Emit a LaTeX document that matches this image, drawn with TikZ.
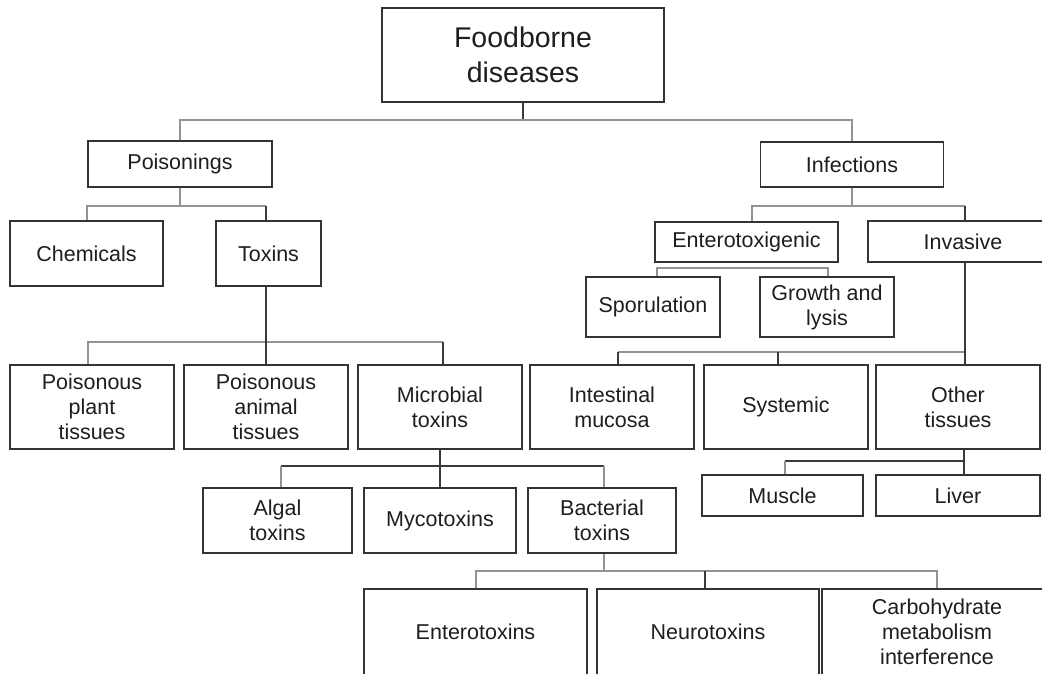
\documentclass[tikz,border=0pt]{standalone}
\usepackage{fontspec}
\setmainfont{Liberation Sans}
\definecolor{boxc}{HTML}{333333}
\definecolor{txtc}{HTML}{1E1E1E}
\definecolor{gline}{HTML}{939393}
\definecolor{dline}{HTML}{3A3A3A}
\begin{document}
\begin{tikzpicture}[x=1pt,y=-1pt,
  box/.style={draw=boxc,line width=1.7pt,fill=white,inner sep=0pt,align=center,
    text=txtc,font=\fontsize{21.5}{25}\selectfont},
  bigbox/.style={box,font=\fontsize{28.5}{35}\selectfont},
  gl/.style={draw=gline,line width=2pt},
  dl/.style={draw=dline,line width=1.8pt}]
\useasboundingbox (0,0) rectangle (1042,673);
\fill[white] (0,0) rectangle (1042,673);
\clip (0,0) rectangle (1042,673);

% bar levels
\coordinate (b0) at (0,120);
\coordinate (b1) at (0,206);
\coordinate (b2) at (0,342);
\coordinate (b3) at (0,466);
\coordinate (b4) at (0,571);
\coordinate (b5) at (0,268);
\coordinate (b6) at (0,352);
\coordinate (b7) at (0,461);

% connectors first (boxes drawn on top)
\path
  (523,55) coordinate (foodc)
  (180,164) coordinate (poisc);
% nodes
\node[bigbox,minimum width=282pt,minimum height=94pt] (food) at (523,55) {Foodborne\\diseases};
\node[box,minimum width=184pt,minimum height=46pt] (pois) at (180,164) {Poisonings};
\node[box,minimum width=183pt,minimum height=45pt] (inf) at (852,164.5) {Infections};
\node[box,minimum width=153pt,minimum height=65pt] (chem) at (86.5,253.5) {Chemicals};
\node[box,minimum width=105pt,minimum height=65pt] (tox) at (268.5,253.5) {Toxins};
\node[box,minimum width=164pt,minimum height=84pt] (plant) at (92,407) {Poisonous\\plant\\tissues};
\node[box,minimum width=164pt,minimum height=84pt] (animal) at (266,407) {Poisonous\\animal\\tissues};
\node[box,minimum width=164pt,minimum height=84pt] (micro) at (440,407) {Microbial\\toxins};
\node[box,minimum width=149pt,minimum height=65pt] (algal) at (277.5,520.5) {Algal\\toxins};
\node[box,minimum width=152pt,minimum height=65pt] (myco) at (440,520.5) {Mycotoxins};
\node[box,minimum width=148pt,minimum height=65pt] (bact) at (602,520.5) {Bacterial\\toxins};
\node[box,minimum width=223pt,minimum height=86pt] (entero) at (475.5,632) {Enterotoxins};
\node[box,minimum width=222pt,minimum height=86pt] (neuro) at (708,632) {Neurotoxins};
\node[box,minimum width=230pt,minimum height=86pt] (carbo) at (937,632) {Carbohydrate\\metabolism\\interference};
\node[box,minimum width=183pt,minimum height=40pt] (ent) at (746.5,242) {Enterotoxigenic};
\node[box,minimum width=190pt,minimum height=41pt] (inv) at (963,241.5) {Invasive};
\node[box,minimum width=134pt,minimum height=60pt] (spor) at (653,307) {Sporulation};
\node[box,minimum width=134pt,minimum height=60pt] (growth) at (827,307) {Growth and\\lysis};
\node[box,minimum width=164pt,minimum height=84pt] (intest) at (612,407) {Intestinal\\mucosa};
\node[box,minimum width=164pt,minimum height=84pt] (sys) at (786,407) {Systemic};
\node[box,minimum width=164pt,minimum height=84pt] (oth) at (958,407) {Other\\tissues};
\node[box,minimum width=161pt,minimum height=41pt] (muscle) at (782.5,495.5) {Muscle};
\node[box,minimum width=164pt,minimum height=41pt] (liver) at (958,495.5) {Liver};

% level 0
\draw[dl] (food.south) -- (food.south |- b0);
\draw[gl] (pois.north) -- (pois.north |- b0) -- (inf.north |- b0) -- (inf.north);
% poisonings
\draw[gl] (pois.south) -- (pois.south |- b1);
\draw[gl] (chem.north) -- (chem.north |- b1) -- ([xshift=-2.5pt]tox.north |- b1);
\draw[dl] ([xshift=-2.5pt]tox.north |- b1) -- ([xshift=-2.5pt]tox.north);
% toxins
\draw[gl] ([xshift=-4pt]plant.north) -- ([xshift=-4pt]plant.north |- b2) -- ([xshift=3pt]micro.north |- b2);
\draw[dl] ([xshift=3pt]micro.north |- b2) -- ([xshift=3pt]micro.north);
\draw[dl] ([xshift=-2.5pt]tox.south) -- ([xshift=-2.5pt]tox.south |- animal.north);
% microbial
\draw[dl] ([xshift=3.5pt]algal.north |- b3) -- ([xshift=2pt]bact.north |- b3);
\draw[gl] ([xshift=3.5pt]algal.north |- b3) -- ([xshift=3.5pt]algal.north);
\draw[gl] ([xshift=2pt]bact.north |- b3) -- ([xshift=2pt]bact.north);
\draw[dl] (micro.south) -- (micro.south |- myco.north);
% bacterial
\draw[gl] ([xshift=2pt]bact.south) -- ([xshift=2pt]bact.south |- b4);
\draw[gl] (entero.north) -- (entero.north |- b4) -- (carbo.north |- b4) -- (carbo.north);
\draw[dl] ([xshift=-3pt]neuro.north |- b4) -- ([xshift=-3pt]neuro.north);
% infections
\draw[gl] (inf.south) -- (inf.south |- b1);
\draw[gl] ([xshift=5pt]ent.north) -- ([xshift=5pt]ent.north |- b1) -- ([xshift=2pt]inv.north |- b1);
\draw[dl] ([xshift=2pt]inv.north |- b1) -- ([xshift=2pt]inv.north);
% enterotoxigenic
\draw[gl] ([xshift=4pt]spor.north) -- ([xshift=4pt]spor.north |- b5) -- ([xshift=1pt]growth.north |- b5) -- ([xshift=1pt]growth.north);
% invasive
\draw[gl] ([xshift=6pt]intest.north |- b6) -- ([xshift=2pt]inv.south |- b6);
\draw[dl] ([xshift=2pt]inv.south) -- ([xshift=2pt]inv.south |- oth.north);
\draw[dl] ([xshift=6pt]intest.north |- b6) -- ([xshift=6pt]intest.north);
\draw[dl] ([xshift=-8pt]sys.north |- b6) -- ([xshift=-8pt]sys.north);
% other tissues
\draw[dl] ([xshift=6pt]oth.south) -- ([xshift=6pt]oth.south |- liver.north);
\draw[dl] ([xshift=2.5pt]muscle.north |- b7) -- ([xshift=6pt]oth.south |- b7);
\draw[gl] ([xshift=2.5pt]muscle.north |- b7) -- ([xshift=2.5pt]muscle.north);
\end{tikzpicture}
\end{document}
